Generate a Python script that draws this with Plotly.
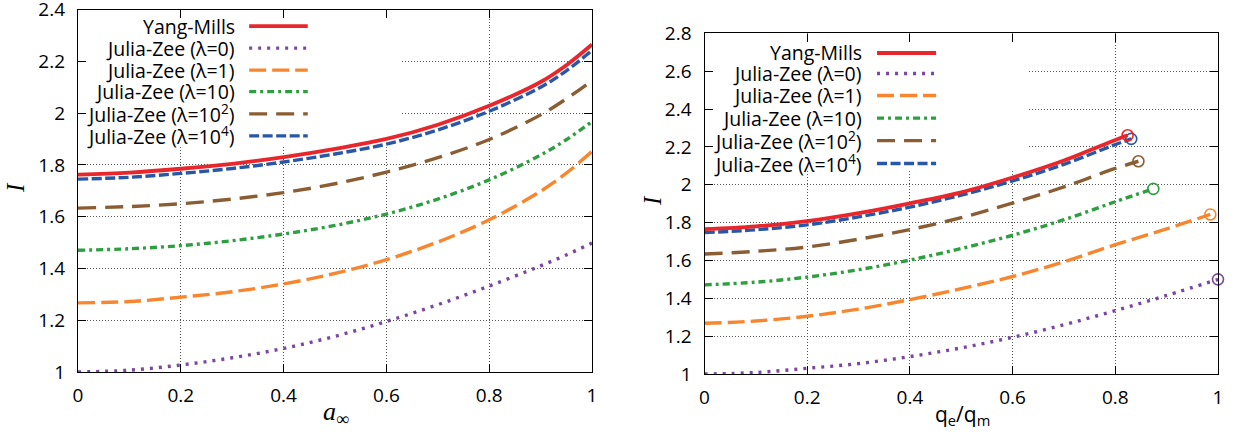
import plotly.graph_objects as go

# ---------------- data ----------------
series_names = ["Yang-Mills", "Julia-Zee (λ=0)", "Julia-Zee (λ=1)", "Julia-Zee (λ=10)",
                "Julia-Zee (λ=10<sup>2</sup>)", "Julia-Zee (λ=10<sup>4</sup>)"]

# left panel: I vs a_inf
a_inf = [0, 0.1, 0.2, 0.3, 0.4, 0.5, 0.6, 0.7, 0.8, 0.9, 0.95, 1.0]
left_ym = [1.762, 1.770, 1.785, 1.804, 1.830, 1.862, 1.900, 1.955, 2.028, 2.120, 2.185, 2.265]
left_jz0 = [1.000, 1.007, 1.027, 1.055, 1.091, 1.138, 1.195, 1.260, 1.332, 1.410, 1.452, 1.498]
left_jz1 = [1.267, 1.272, 1.289, 1.310, 1.340, 1.381, 1.434, 1.502, 1.588, 1.698, 1.768, 1.852]
left_jz10 = [1.470, 1.476, 1.488, 1.507, 1.533, 1.566, 1.610, 1.668, 1.742, 1.838, 1.897, 1.967]
left_jz1e2 = [1.633, 1.639, 1.650, 1.668, 1.693, 1.727, 1.772, 1.828, 1.898, 1.993, 2.055, 2.125]
left_jz1e4 = [1.745, 1.752, 1.767, 1.786, 1.811, 1.842, 1.880, 1.935, 2.007, 2.100, 2.163, 2.242]

# right panel: I vs q_e/q_m (each curve ends at a circle)
right_ym_x = [0, 0.1, 0.2, 0.3, 0.4, 0.5, 0.6, 0.7, 0.8, 0.824]
right_ym_y = [1.765, 1.780, 1.808, 1.850, 1.902, 1.960, 2.038, 2.128, 2.236, 2.261]
right_jz0_x = [0, 0.1, 0.2, 0.3, 0.4, 0.5, 0.6, 0.7, 0.8, 0.9, 1.0]
right_jz0_y = [1.000, 1.008, 1.030, 1.055, 1.092, 1.138, 1.194, 1.260, 1.335, 1.415, 1.500]
right_jz1_x = [0, 0.1, 0.2, 0.3, 0.4, 0.5, 0.6, 0.7, 0.8, 0.9, 0.985]
right_jz1_y = [1.268, 1.280, 1.305, 1.343, 1.393, 1.451, 1.515, 1.593, 1.683, 1.767, 1.843]
right_jz10_x = [0, 0.1, 0.2, 0.3, 0.4, 0.5, 0.6, 0.7, 0.8, 0.874]
right_jz10_y = [1.471, 1.485, 1.512, 1.551, 1.602, 1.663, 1.733, 1.815, 1.910, 1.978]
right_jz1e2_x = [0, 0.1, 0.2, 0.3, 0.4, 0.5, 0.6, 0.7, 0.8, 0.845]
right_jz1e2_y = [1.634, 1.648, 1.671, 1.712, 1.763, 1.826, 1.903, 1.988, 2.086, 2.124]
right_jz1e4_x = [0, 0.1, 0.2, 0.3, 0.4, 0.5, 0.6, 0.7, 0.8, 0.831]
right_jz1e4_y = [1.747, 1.762, 1.788, 1.830, 1.882, 1.945, 2.020, 2.108, 2.212, 2.242]

x_ticks = [0, 0.2, 0.4, 0.6, 0.8, 1]
left_y_ticks = [1, 1.2, 1.4, 1.6, 1.8, 2, 2.2, 2.4]
right_y_ticks = [1, 1.2, 1.4, 1.6, 1.8, 2, 2.2, 2.4, 2.6, 2.8]

# ---------------- styles ----------------
colors = ["#e8262b", "#7b46a0", "#f7862f", "#2f9e41", "#8a5d33", "#2857a6"]
dashes = ["solid", "3px,6px", "17px,6px", "7px,4px,3px,4px", "18px,9px", "10px,3.5px"]
widths = [3.8, 3.4, 3.4, 3.4, 3.4, 3.4]
FONT = "Open Sans"

left_series = [left_ym, left_jz0, left_jz1, left_jz10, left_jz1e2, left_jz1e4]
right_series = [(right_ym_x, right_ym_y), (right_jz0_x, right_jz0_y), (right_jz1_x, right_jz1_y),
                (right_jz10_x, right_jz10_y), (right_jz1e2_x, right_jz1e2_y), (right_jz1e4_x, right_jz1e4_y)]

fig = go.Figure()
order = [1, 2, 3, 4, 5, 0]
for i in order:
    fig.add_trace(go.Scatter(x=a_inf, y=left_series[i], mode="lines", xaxis="x", yaxis="y",
                             line=dict(color=colors[i], width=widths[i], dash=dashes[i], shape="spline"),
                             showlegend=False, hoverinfo="skip"))
for i in order:
    xs, ys = right_series[i]
    fig.add_trace(go.Scatter(x=xs, y=ys, mode="lines", xaxis="x2", yaxis="y2",
                             line=dict(color=colors[i], width=widths[i], dash=dashes[i], shape="spline"),
                             showlegend=False, hoverinfo="skip"))
    fig.add_trace(go.Scatter(x=[xs[-1]], y=[ys[-1]], mode="markers", xaxis="x2", yaxis="y2",
                             marker=dict(symbol="circle-open", size=11, color=colors[i],
                                         line=dict(width=1.6, color=colors[i])),
                             showlegend=False, hoverinfo="skip", cliponaxis=False))

W, H = 1239, 435
lx0, lx1 = 78 / W, 592 / W
rx0, rx1 = 704.5 / W, 1218 / W
ly0, ly1 = (H - 372) / H, (H - 9.5) / H
ry0, ry1 = (H - 374) / H, (H - 33.3) / H

axis_common = dict(showline=True, linecolor="black", linewidth=1.4, mirror="ticks",
                   ticks="inside", ticklen=8, tickwidth=1.2, tickcolor="black",
                   showgrid=True, gridcolor="#555555", gridwidth=1, griddash="1px,2px",
                   zeroline=False, automargin=False, ticklabeloverflow="allow",
                   tickfont=dict(family=FONT, size=19, color="black"))

fig.update_layout(
    width=W, height=H, margin=dict(l=0, r=0, t=0, b=0, autoexpand=False),
    paper_bgcolor="white", plot_bgcolor="white", showlegend=False,
    xaxis=dict(domain=[lx0, lx1], range=[0, 1], tickvals=x_ticks,
               ticktext=[f"{v:g}" for v in x_ticks], anchor="y", ticklabelstandoff=6, **axis_common),
    yaxis=dict(domain=[ly0, ly1], range=[1, 2.4], tickvals=left_y_ticks,
               ticktext=[f"{v:g}" for v in left_y_ticks], anchor="x", ticklabelstandoff=8, **axis_common),
    xaxis2=dict(domain=[rx0, rx1], range=[0, 1], tickvals=x_ticks,
                ticktext=[f"{v:g}" for v in x_ticks], anchor="y2", ticklabelstandoff=6, **axis_common),
    yaxis2=dict(domain=[ry0, ry1], range=[1, 2.8], tickvals=right_y_ticks,
                ticktext=[f"{v:g}" for v in right_y_ticks], anchor="x2", ticklabelstandoff=8, **axis_common),
)

# legend background boxes (hide grid behind key)
fig.add_shape(type="rect", xref="x", yref="y", x0=0.003, x1=0.63, y0=1.869, y1=2.397,
              fillcolor="white", line=dict(width=0), layer="between")
fig.add_shape(type="rect", xref="x2", yref="y2", x0=0.003, x1=0.63, y0=2.082, y1=2.797,
              fillcolor="white", line=dict(width=0), layer="between")

# legend keys (text on left, sample on right, as in the reference)
left_rows = [2.336, 2.251, 2.166, 2.083, 1.997, 1.912]
right_rows = [2.696, 2.588, 2.471, 2.352, 2.233, 2.112]
for k in range(6):
    for xr, yr, rows, tx, s0, s1 in [("x", "y", left_rows, 0.308, 0.333, 0.447),
                                       ("x2", "y2", right_rows, 0.308, 0.336, 0.451)]:
        fig.add_annotation(xref=xr, yref=yr, x=tx, y=rows[k], text=series_names[k], showarrow=False,
                           xanchor="right", yanchor="middle", borderpad=0,
                           font=dict(family=FONT, size=19.5, color="black"))
        fig.add_shape(type="line", xref=xr, yref=yr, x0=s0, x1=s1, y0=rows[k], y1=rows[k],
                      line=dict(color=colors[k], width=widths[k], dash=dashes[k]))

# axis titles
fig.add_annotation(xref="paper", yref="paper", x=336 / W, y=(H - 413) / H, text="<i>a</i><sub>∞</sub>",
                   showarrow=False, xanchor="center", yanchor="middle",
                   font=dict(family="Liberation Serif", size=26, color="black"))
fig.add_annotation(xref="paper", yref="paper", x=962 / W, y=(H - 415) / H, text="q<sub>e</sub>/q<sub>m</sub>",
                   showarrow=False, xanchor="center", yanchor="middle",
                   font=dict(family=FONT, size=21, color="black"))
fig.add_annotation(xref="paper", yref="paper", x=15 / W, y=(H - 188) / H, text="<i>I</i>",
                   showarrow=False, textangle=-90, xanchor="center", yanchor="middle",
                   font=dict(family="Liberation Serif", size=25, color="black"))
fig.add_annotation(xref="paper", yref="paper", x=652 / W, y=(H - 201) / H, text="<i>I</i>",
                   showarrow=False, textangle=-90, xanchor="center", yanchor="middle",
                   font=dict(family="Liberation Serif", size=25, color="black"))

# remove the default 8px page margin so the figure sits at the window's corner
fig.write_html("out.html", config={"displayModeBar": False},
               post_script="document.body.style.margin='0';")
